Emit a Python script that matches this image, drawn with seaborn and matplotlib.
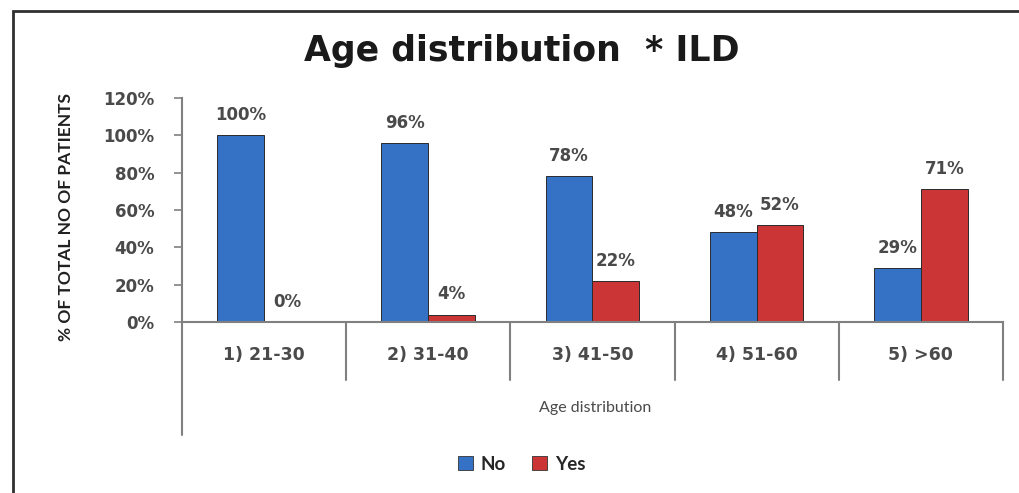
import numpy as np
import pandas as pd
import matplotlib.pyplot as plt
import seaborn as sns
from matplotlib.lines import Line2D
from matplotlib.patches import Rectangle

categories = ['1) 21-30', '2) 31-40', '3) 41-50', '4) 51-60', '5) >60']
no_vals = [100, 96, 78, 48, 29]
yes_vals = [0, 4, 22, 52, 71]
series = ['No', 'Yes']
colors = ['#3572c6', '#cc3535']

df = pd.DataFrame({
    'Age': categories * 2,
    'ILD': ['No'] * len(categories) + ['Yes'] * len(categories),
    'pct': no_vals + yes_vals,
})

sns.set_theme(style='white')
plt.rcParams['font.family'] = ['Lato', 'DejaVu Sans']
num_font = 'DejaVu Sans'
grey = '#4a4a4a'

fig = plt.figure(figsize=(10.19, 4.93), dpi=100)
ax = fig.add_axes([0.1786, 0.3469, 0.8057, 0.4543])

sns.barplot(data=df, x='Age', y='pct', hue='ILD', hue_order=series,
            palette=colors, saturation=1, width=0.57, ax=ax, legend=False)
for bar in ax.patches:
    bar.set_edgecolor('#2a2a2a')
    bar.set_linewidth(0.7)

ax.set_ylim(0, 120)
ax.set_xlim(-0.5, 4.5)
ax.set_yticks(np.arange(0, 121, 20))
ax.set_yticklabels([f'{v}%' for v in range(0, 121, 20)], family=num_font,
                   fontsize=12, fontweight='bold', color=grey)
ax.set_xticks(range(len(categories)))
ax.set_xticklabels(categories, family=num_font, fontsize=12.5,
                   fontweight='bold', color=grey)
ax.tick_params(axis='y', left=True, length=6, color='#808080', width=1.2, pad=14)
ax.tick_params(axis='x', bottom=False, pad=11)
for s in ['top', 'right']:
    ax.spines[s].set_visible(False)
for s in ['left', 'bottom']:
    ax.spines[s].set_color('#808080')
    ax.spines[s].set_linewidth(1.5)

# category separators and extended left axis below the plot
for b in range(1, len(categories) + 1):
    xf = b / len(categories)
    ax.add_line(Line2D([xf, xf], [0, -0.259], transform=ax.transAxes,
                       color='#808080', lw=1.5, clip_on=False))
ax.add_line(Line2D([0, 0], [0, -0.504], transform=ax.transAxes,
                   color='#808080', lw=1.5, clip_on=False))

# value labels
for c in ax.containers:
    labels = [f'{v:.0f}%' for v in c.datavalues]
    ax.bar_label(c, labels=labels, padding=8, family=num_font, fontsize=12,
                 fontweight='bold', color=grey)

ax.set_xlabel('')
ax.set_ylabel('% OF TOTAL NO OF PATIENTS', fontsize=12.5, fontweight='bold',
              color='#202020')
ax.yaxis.set_label_coords(-0.132, 0.47)

fig.text(0.584, 1 - 408 / 493, 'Age distribution', ha='center', va='center',
         fontsize=11.5, color=grey)
fig.text(0.512, 1 - 51 / 493, 'Age distribution  * ILD', ha='center', va='center',
         family='DejaVu Sans', fontsize=25, fontweight='bold', color='#1a1a1a')

handles = [Rectangle((0, 0), 1, 1, facecolor=c, edgecolor='#333333', lw=0.6)
           for c in colors]
fig.legend(handles, series, loc='center', bbox_to_anchor=(0.512, 1 - 464 / 493),
           ncol=2, frameon=False, handlelength=0.8, handleheight=0.8,
           handletextpad=0.4, columnspacing=1.4,
           prop={'weight': 'bold', 'size': 13.5})

fig.patches.append(Rectangle((13 / 1019, -0.1), 1.2, 1 - 11 / 493 + 0.1,
                             transform=fig.transFigure, fill=False,
                             edgecolor='#303030', lw=2))

fig.savefig('out.png', dpi=100)
